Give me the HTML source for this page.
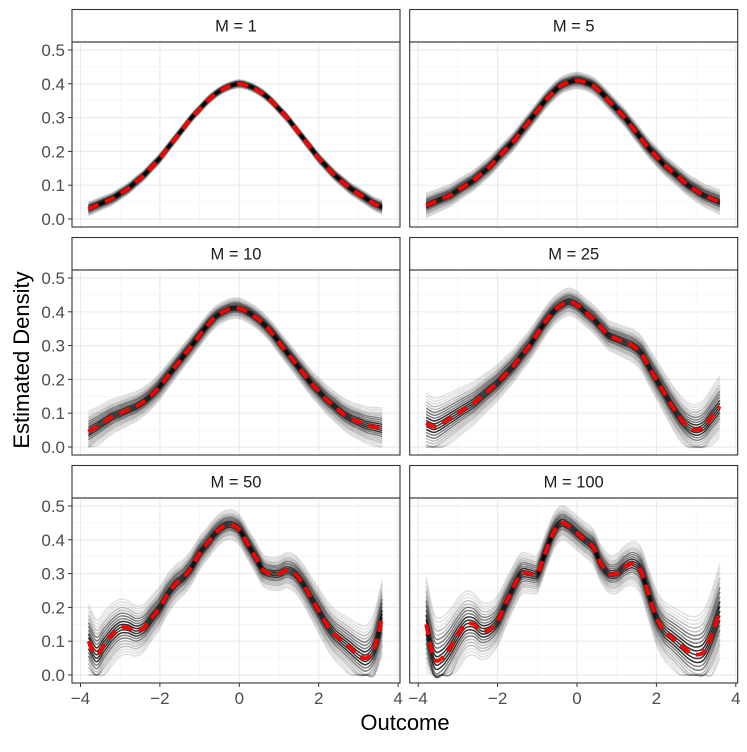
<!DOCTYPE html>
<html><head><meta charset="utf-8"><style>
body{margin:0;background:#fff}
svg text{font-family:"Liberation Sans",Arial,sans-serif}
</style></head><body>
<svg id="chart" width="747" height="747" viewBox="0 0 747 747" xmlns="http://www.w3.org/2000/svg">
<g id="root"></g>
<text x="405" y="730" font-size="22" text-anchor="middle" fill="#000">Outcome</text>
<text transform="translate(29,360) rotate(-90)" font-size="22" text-anchor="middle" fill="#000">Estimated Density</text>
</svg>
<script>
const xs = [];
for (let i = 0; i < 38; i++) xs.push(-3.8 + i * 0.2);
const panelLabels = ["M = 1","M = 5","M = 10","M = 25","M = 50","M = 100"];
const meanM1 = [0.03,0.04,0.05,0.06,0.075,0.09,0.11,0.13,0.155,0.18,0.21,0.24,0.27,0.30,0.325,0.35,0.37,0.385,0.395,0.40,0.395,0.385,0.37,0.35,0.325,0.30,0.27,0.24,0.21,0.18,0.155,0.13,0.11,0.09,0.075,0.06,0.045,0.035];
const meanM5 = [0.04,0.05,0.06,0.07,0.085,0.10,0.115,0.135,0.155,0.18,0.205,0.23,0.26,0.29,0.32,0.35,0.375,0.395,0.405,0.41,0.405,0.395,0.375,0.35,0.325,0.30,0.27,0.24,0.21,0.185,0.16,0.14,0.12,0.10,0.085,0.07,0.06,0.05];
const meanM10 = [0.045,0.06,0.075,0.09,0.10,0.11,0.12,0.135,0.155,0.18,0.21,0.24,0.27,0.30,0.33,0.36,0.385,0.40,0.41,0.41,0.40,0.385,0.365,0.34,0.31,0.28,0.25,0.22,0.19,0.165,0.14,0.12,0.10,0.085,0.075,0.065,0.06,0.055];
const meanM25 = [0.07,0.06,0.07,0.085,0.10,0.115,0.13,0.15,0.17,0.19,0.215,0.24,0.27,0.30,0.335,0.37,0.40,0.42,0.43,0.42,0.40,0.38,0.355,0.33,0.32,0.31,0.30,0.28,0.24,0.20,0.16,0.12,0.085,0.06,0.05,0.06,0.09,0.12];
const meanM50 = [0.10,0.06,0.09,0.12,0.14,0.14,0.13,0.14,0.17,0.20,0.24,0.27,0.29,0.32,0.36,0.39,0.42,0.44,0.445,0.43,0.39,0.35,0.31,0.30,0.30,0.31,0.30,0.27,0.23,0.19,0.15,0.12,0.10,0.08,0.06,0.05,0.08,0.17];
const meanM100 = [0.15,0.05,0.05,0.08,0.12,0.15,0.15,0.13,0.135,0.16,0.21,0.26,0.30,0.30,0.30,0.36,0.42,0.45,0.44,0.42,0.40,0.38,0.33,0.30,0.30,0.32,0.33,0.31,0.24,0.17,0.13,0.11,0.09,0.07,0.06,0.07,0.12,0.19];
const meanSeries = [meanM1, meanM5, meanM10, meanM25, meanM50, meanM100];
const spreadCenter = [0.006, 0.012, 0.015, 0.02, 0.022, 0.025];
const spreadEdge = [0.01, 0.018, 0.03, 0.045, 0.055, 0.07];
const yTicks = [0,0.1,0.2,0.3,0.4,0.5];
const yTickLabels = ["0.0","0.1","0.2","0.3","0.4","0.5"];
const xTicks = [-4,-2,0,2,4];
const xTickLabels = ["\u22124","\u22122","0","2","4"];

const NS = "http://www.w3.org/2000/svg";
const root = document.getElementById("root");
function mk(tag, attrs, parent){const e=document.createElementNS(NS,tag);for(const k in attrs)e.setAttribute(k,attrs[k]);(parent||root).appendChild(e);return e;}
const colLeft=[72,409.7], PW=328, PH=185, STRIP=32.5;
function px(col,v){return colLeft[col]+8.5+(v+4)*39.7;}
function py(row,v){return 219+228*row - v*338;}
function pathFrom(pts){
  let d="M"+pts[0][0].toFixed(1)+","+pts[0][1].toFixed(1);
  for(let i=0;i<pts.length-1;i++){
    const p0=pts[i-1]||pts[i],p1=pts[i],p2=pts[i+1],p3=pts[i+2]||p2;
    const c1=[p1[0]+(p2[0]-p0[0])/6,p1[1]+(p2[1]-p0[1])/6];
    const c2=[p2[0]-(p3[0]-p1[0])/6,p2[1]-(p3[1]-p1[1])/6];
    d+="C"+c1[0].toFixed(1)+","+c1[1].toFixed(1)+" "+c2[0].toFixed(1)+","+c2[1].toFixed(1)+" "+p2[0].toFixed(1)+","+p2[1].toFixed(1);
  }
  return d;
}
for(let p=0;p<6;p++){
  const col=p%2,row=Math.floor(p/2);
  const L=colLeft[col], top=9.5+228*row, ptop=top+STRIP, pbot=ptop+PH;
  const g=mk("g",{});
  
  
  const strip=mk("rect",{x:L,y:top,width:PW,height:STRIP,fill:"#fff",stroke:"#333","stroke-width":1.1},g);
  
  
  const st=mk("text",{x:L+PW/2,y:top+22,"font-size":16.5,"text-anchor":"middle",fill:"#1a1a1a"},g);
  st.textContent=panelLabels[p];
  
  
  for(let v=-3;v<=3;v+=2) mk("line",{x1:px(col,v),x2:px(col,v),y1:ptop,y2:pbot,stroke:"#f2f2f2","stroke-width":0.6},g);
  for(let v=0.05;v<0.5;v+=0.1) mk("line",{x1:L,x2:L+PW,y1:py(row,v),y2:py(row,v),stroke:"#f2f2f2","stroke-width":0.6},g);
  xTicks.forEach(v=>mk("line",{x1:px(col,v),x2:px(col,v),y1:ptop,y2:pbot,stroke:"#ebebeb","stroke-width":1.2},g));
  yTicks.forEach(v=>mk("line",{x1:L,x2:L+PW,y1:py(row,v),y2:py(row,v),stroke:"#ebebeb","stroke-width":1.2},g));
  const mean=meanSeries[p];
  const cg=mk("g",{},g);
  
  
  for(let k=-2;k<=2.001;k+=0.2){
    const pts=xs.map((x,i)=>{
      const t=Math.abs(x+0.1)/3.7;
      const s=spreadCenter[p]+(spreadEdge[p]-spreadCenter[p])*t*t;
      return [px(col,x),py(row,Math.max(0,mean[i]+k*s))];
    });
    const a=Math.abs(k);
    const op=a>1.5?0.12:(a>1.0?0.25:(a>0.5?0.5:0.8));
    mk("path",{d:pathFrom(pts),fill:"none",stroke:"#000","stroke-opacity":op,"stroke-width":1.5},cg);
  }
  const mp=mk("path",{d:pathFrom(xs.map((x,i)=>[px(col,x),py(row,mean[i])])),fill:"none",stroke:"#ff0000","stroke-width":3.8,"stroke-dasharray":"11 7"},g);
  
  
  mk("rect",{x:L,y:ptop,width:PW,height:PH,fill:"none",stroke:"#333","stroke-width":1.1},g);
  if(col===0){
    yTicks.forEach((v,i)=>{
      mk("line",{x1:L-4,x2:L,y1:py(row,v),y2:py(row,v),stroke:"#333","stroke-width":1},g);
      const t=mk("text",{x:L-7,y:py(row,v)+6,"font-size":17,"text-anchor":"end",fill:"#4d4d4d"},g);
      t.textContent=yTickLabels[i];
      
      
    });
  }
  if(row===2){
    xTicks.forEach((v,i)=>{
      mk("line",{x1:px(col,v),x2:px(col,v),y1:pbot,y2:pbot+4,stroke:"#333","stroke-width":1},g);
      const t=mk("text",{x:px(col,v),y:pbot+21,"font-size":17,"text-anchor":"middle",fill:"#4d4d4d"},g);
      t.textContent=xTickLabels[i];
      
      
    });
  }
}
</script>
</body></html>
